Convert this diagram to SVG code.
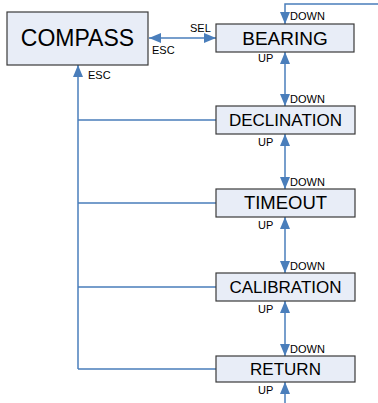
<svg xmlns="http://www.w3.org/2000/svg" width="378" height="403" viewBox="0 0 378 403">
<style>
.box{fill:#e8edf7;stroke:#3a3a3a;stroke-width:1.2}
.t{font-family:"Liberation Sans",Arial,sans-serif;fill:#000;text-anchor:middle}
.l{font-family:"Liberation Sans",Arial,sans-serif;font-size:11px;fill:#000}
.c{fill:none;stroke:#4a7ebb;stroke-width:1.5}
</style>
<defs>
<marker id="ah" viewBox="0 0 12 10" refX="12" refY="5" markerWidth="12" markerHeight="10" markerUnits="userSpaceOnUse" orient="auto-start-reverse">
<path d="M0,0 L12,5 L0,10 Z" fill="#4a7ebb"/>
</marker>
</defs>
<g id="connectors">
<path class="c" d="M378,4 H285 V24" marker-end="url(#ah)"/>
<path class="c" d="M149,38 H216" marker-start="url(#ah)" marker-end="url(#ah)"/>
<path class="c" d="M285,52 V106" marker-start="url(#ah)" marker-end="url(#ah)"/>
<path class="c" d="M285,134 V189" marker-start="url(#ah)" marker-end="url(#ah)"/>
<path class="c" d="M285,217 V273" marker-start="url(#ah)" marker-end="url(#ah)"/>
<path class="c" d="M285,301 V356" marker-start="url(#ah)" marker-end="url(#ah)"/>
<path class="c" d="M285,403 V382" marker-end="url(#ah)"/>
<path class="c" d="M78,369 V65" marker-end="url(#ah)"/>
<path class="c" d="M78,120 H216 M78,203 H216 M78,287 H216 M78,369 H216"/>
<text class="l" x="190" y="32">SEL</text>
<text class="l" x="152" y="54">ESC</text>
<text class="l" x="88" y="79">ESC</text>
<text class="l" x="290" y="20">DOWN</text>
<text class="l" x="258" y="62">UP</text>
<text class="l" x="290" y="103">DOWN</text>
<text class="l" x="258" y="146">UP</text>
<text class="l" x="290" y="186">DOWN</text>
<text class="l" x="258" y="229">UP</text>
<text class="l" x="290" y="270">DOWN</text>
<text class="l" x="258" y="313">UP</text>
<text class="l" x="290" y="353">DOWN</text>
<text class="l" x="258" y="394">UP</text>
</g>
<g id="compass"><rect class="box" x="7" y="12" width="141" height="53"/><text class="t" x="77.5" y="46" font-size="23">COMPASS</text></g>
<g id="bearing"><rect class="box" x="216" y="24" width="138" height="28"/><text class="t" x="285" y="45" font-size="19">BEARING</text></g>
<g id="declination"><rect class="box" x="216" y="106" width="139" height="28"/><text class="t" x="285.5" y="126" font-size="17">DECLINATION</text></g>
<g id="timeout"><rect class="box" x="216" y="189" width="139" height="28"/><text class="t" x="285.5" y="209" font-size="18.5">TIMEOUT</text></g>
<g id="calibration"><rect class="box" x="216" y="273" width="139" height="28"/><text class="t" x="285.5" y="293" font-size="17">CALIBRATION</text></g>
<g id="return"><rect class="box" x="216" y="356" width="139" height="26"/><text class="t" x="285.5" y="375" font-size="17">RETURN</text></g>
</svg>
